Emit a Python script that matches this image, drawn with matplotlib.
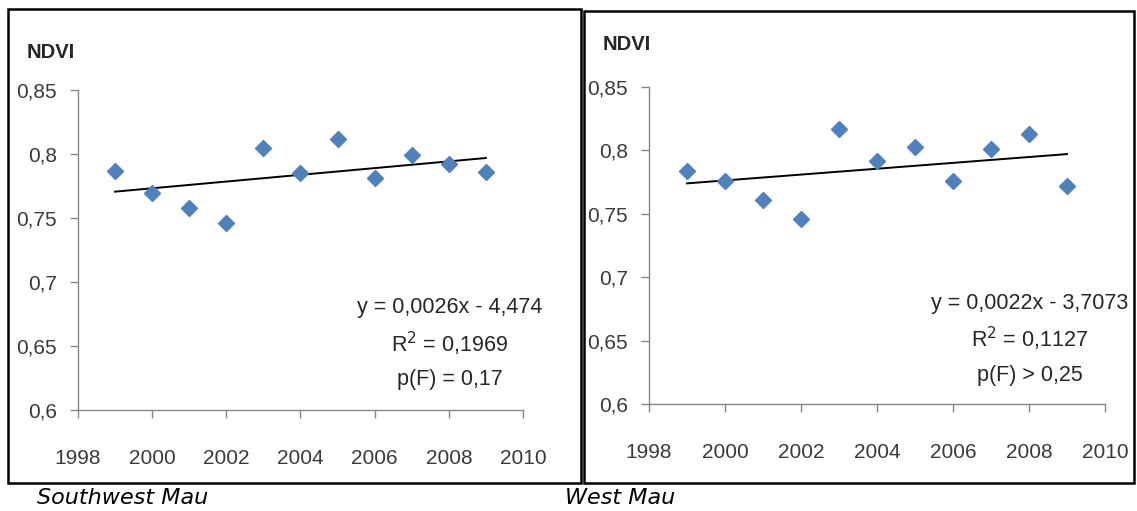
import numpy as np
import matplotlib
matplotlib.use("Agg")
import matplotlib.pyplot as plt
from matplotlib.patches import Rectangle
from matplotlib import font_manager

years = [1999, 2000, 2001, 2002, 2003, 2004, 2005, 2006, 2007, 2008, 2009]
ndvi_southwest = [0.787, 0.7695, 0.758, 0.746, 0.8045, 0.785, 0.812, 0.781, 0.7995, 0.7925, 0.786]
ndvi_west = [0.784, 0.776, 0.761, 0.746, 0.817, 0.792, 0.803, 0.776, 0.801, 0.813, 0.772]

stats_southwest = ["y = 0,0026x - 4,474", "R$^2$ = 0,1969", "p(F) = 0,17"]
stats_west = ["y = 0,0022x - 3,7073", "R$^2$ = 0,1127", "p(F) > 0,25"]
captions = ["Southwest Mau", "West Mau"]
ytick_vals = [0.6, 0.65, 0.7, 0.75, 0.8, 0.85]
ytick_labels = ["0,6", "0,65", "0,7", "0,75", "0,8", "0,85"]
xtick_vals = [1998, 2000, 2002, 2004, 2006, 2008, 2010]

avail = {f.name for f in font_manager.fontManager.ttflist}
narrow = "Liberation Sans Narrow" if "Liberation Sans Narrow" in avail else "Liberation Sans"

W, H = 1137, 511
fig = plt.figure(figsize=(W / 100, H / 100), dpi=100)

def fx(px):
    return px / W

def fy(py):
    return 1 - py / H

# panel frames
for (x0, y0, x1, y1) in [(8, 9, 581, 483), (584, 11, 1134, 483)]:
    fig.patches.append(Rectangle((fx(x0), fy(y1)), fx(x1 - x0), (y1 - y0) / H,
                                 transform=fig.transFigure, fill=False,
                                 edgecolor="black", linewidth=1.8))

panels = [
    dict(ax=(78, 90, 523, 410), data=ndvi_southwest, stats=stats_southwest,
         text_xy=(450, 308), ndvi_xy=(27, 53), cap_xy=(37, 498), cap=captions[0]),
    dict(ax=(649, 87, 1105, 404), data=ndvi_west, stats=stats_west,
         text_xy=(1030, 303), ndvi_xy=(603, 45), cap_xy=(565, 498), cap=captions[1]),
]

axis_col = "#868686"
txt_col = "#3a3a3a"
blue = "#4F81BD"

for p in panels:
    x0, y0, x1, y1 = p["ax"]
    ax = fig.add_axes([fx(x0), fy(y1), fx(x1 - x0), (y1 - y0) / H])
    ax.set_xlim(1998, 2010)
    ax.set_ylim(0.6, 0.85)
    ax.plot(years, p["data"], linestyle="none", marker="D", markersize=8,
            color=blue, markeredgecolor=blue, zorder=3)
    coef = np.polyfit(years, p["data"], 1)
    yrs = np.array([years[0], years[-1]])
    ax.plot(yrs, np.polyval(coef, yrs), color="black", linewidth=1.4, zorder=2)
    for s in ["top", "right"]:
        ax.spines[s].set_visible(False)
    for s in ["left", "bottom"]:
        ax.spines[s].set_color(axis_col)
        ax.spines[s].set_linewidth(1.0)
    ax.set_yticks(ytick_vals)
    ax.set_yticklabels(ytick_labels)
    ax.set_xticks(xtick_vals)
    ax.tick_params(axis="both", colors=axis_col, length=6, width=1.0, direction="out")
    ax.tick_params(axis="y", pad=9, labelcolor=txt_col, labelsize=15)
    ax.tick_params(axis="x", pad=22, labelcolor=txt_col, labelsize=15)
    for lab in ax.get_xticklabels() + ax.get_yticklabels():
        lab.set_family([narrow, "DejaVu Sans"])
    ax.patch.set_alpha(0)
    # stats text
    tx, ty = p["text_xy"]
    for i, line in enumerate(p["stats"]):
        fig.text(fx(tx), fy(ty + i * 36), line, ha="center", va="center",
                 fontsize=15.5, color="#262626", family=[narrow, "DejaVu Sans"])
    nx, ny = p["ndvi_xy"]
    fig.text(fx(nx), fy(ny), "NDVI", ha="left", va="center", fontsize=14.5,
             fontweight="bold", color="#262626", family=[narrow, "DejaVu Sans"])
    cx, cy = p["cap_xy"]
    fig.text(fx(cx), fy(cy), p["cap"], ha="left", va="center", fontsize=16,
             style="italic", color="black", family=["DejaVu Sans"])

fig.savefig("out.png", dpi=100, facecolor="white")
